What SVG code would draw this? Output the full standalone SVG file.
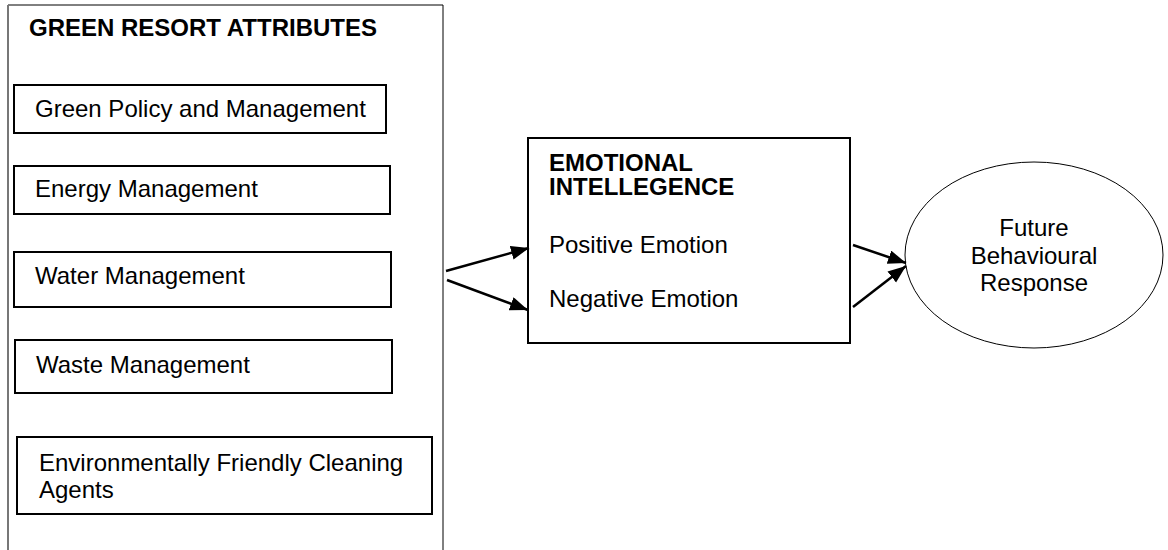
<svg xmlns="http://www.w3.org/2000/svg" width="1168" height="550" viewBox="0 0 1168 550">
<style>
text{font-family:"Liberation Sans",Arial,sans-serif;font-size:24px;fill:#000}
.b{font-weight:bold}
.box{fill:#fff;stroke:#000;stroke-width:2}
.conn{stroke:#000;stroke-width:2.5;fill:none}
</style>
<defs>
<marker id="ah" markerUnits="userSpaceOnUse" markerWidth="20" markerHeight="16" refX="18" refY="7" orient="auto">
<path d="M0,0 L18,7 L0,14 Z" fill="#000"/>
</marker>
</defs>
<rect width="1168" height="550" fill="#fff"/>
<g id="green-resort-attributes">
<path d="M8,550 L8,5 L443,5 L443,550" fill="none" stroke="#000" stroke-width="1"/>
<line x1="8" y1="5" x2="8" y2="550" stroke="#777" stroke-width="2"/>
<text class="b" x="29" y="36">GREEN RESORT ATTRIBUTES</text>
</g>
<g id="green-policy">
<rect class="box" x="14" y="85" width="372" height="48"/>
<text x="35" y="117">Green Policy and Management</text>
</g>
<g id="energy">
<rect class="box" x="14" y="166" width="376" height="48"/>
<text x="35" y="197">Energy Management</text>
</g>
<g id="water">
<rect class="box" x="14" y="252" width="377" height="55"/>
<text x="35" y="284">Water Management</text>
</g>
<g id="waste">
<rect class="box" x="15" y="340" width="377" height="53"/>
<text x="36" y="373">Waste Management</text>
</g>
<g id="cleaning">
<rect class="box" x="17" y="437" width="415" height="77"/>
<text x="39" y="471">Environmentally Friendly Cleaning</text>
<text x="39" y="498">Agents</text>
</g>
<g id="emotional-intelligence">
<rect class="box" x="528" y="138" width="322" height="205"/>
<text class="b" x="549" y="171">EMOTIONAL</text>
<text class="b" x="549" y="195">INTELLEGENCE</text>
<text x="549" y="253">Positive Emotion</text>
<text x="549" y="307">Negative Emotion</text>
</g>
<g id="future-behavioural-response">
<ellipse cx="1034" cy="255" rx="129" ry="93" fill="#fff" stroke="#000" stroke-width="1"/>
<text x="1034" y="236" text-anchor="middle">Future</text>
<text x="1034" y="264" text-anchor="middle">Behavioural</text>
<text x="1034" y="291" text-anchor="middle">Response</text>
</g>
<g id="connectors">
<line class="conn" x1="446" y1="271" x2="529" y2="248" marker-end="url(#ah)"/>
<line class="conn" x1="447" y1="280" x2="528" y2="310" marker-end="url(#ah)"/>
<line class="conn" x1="853" y1="245" x2="906" y2="263" marker-end="url(#ah)"/>
<line class="conn" x1="853" y1="307" x2="906" y2="266" marker-end="url(#ah)"/>
</g>
</svg>
